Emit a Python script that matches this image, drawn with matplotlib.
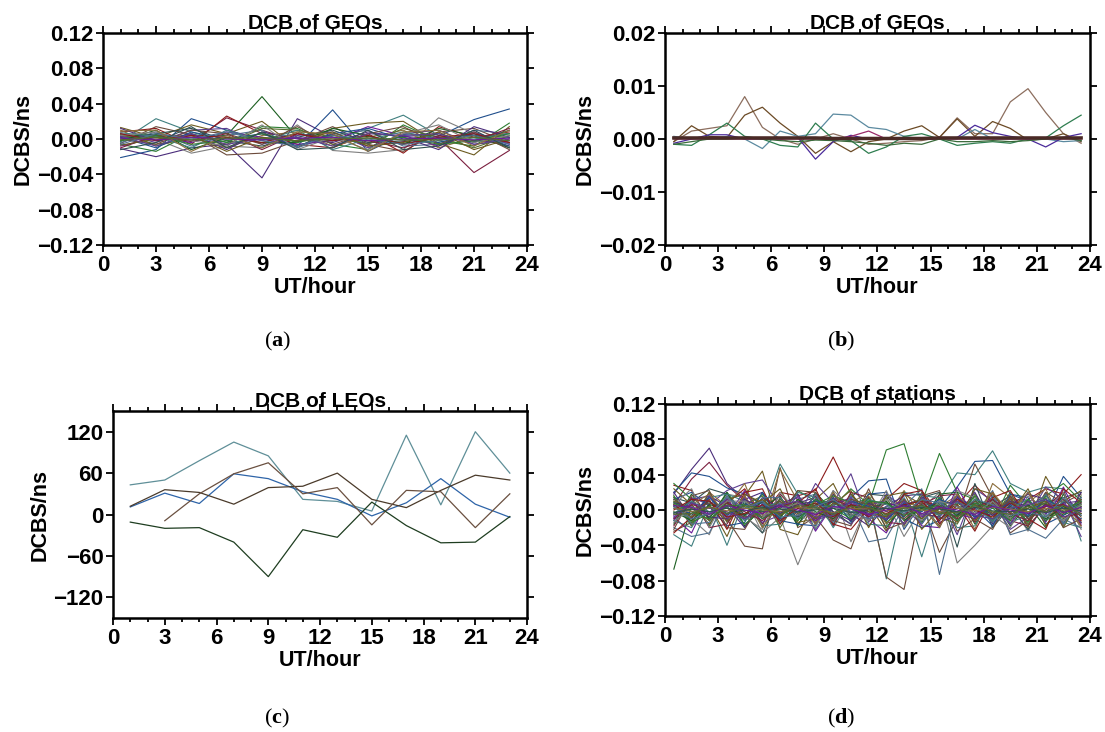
import numpy as np
import matplotlib
matplotlib.use("Agg")
import matplotlib.pyplot as plt
from matplotlib.ticker import MultipleLocator, FuncFormatter

plt.rcParams["font.family"] = ["Liberation Sans", "DejaVu Sans"]
plt.rcParams["mathtext.fontset"] = "custom"
plt.rcParams["mathtext.rm"] = "Liberation Serif"
plt.rcParams["mathtext.bf"] = "Liberation Serif:bold"

# ---------------- data ----------------
# (a) DCB of GEOs, odd hours, values in 1e-3 ns
hours_a = [1, 3, 5, 7, 9, 11, 13, 15, 17, 19, 21, 23]
geo_a = [
    [3, 5, 2, 4, 48, 1, -2, 3, -5, 1, 4, 2],
    [-11, -20, -10, -6, -44, 23, 2, -5, 3, 0, -2, -4],
    [2, 4, -3, 24, 10, -3, 5, -8, -3, 1, -38, -13],
    [-21, -12, 23, 10, 0, -8, 33, -14, 5, 3, 22, 34],
    [-3, 23, 8, -4, 0, 6, -2, 12, 27, 4, -3, 2],
    [13, 2, 16, 6, 20, -10, 12, 18, 20, -5, -18, 14],
    [-5, 14, 5, -18, -16, -2, 14, -6, -14, 8, 12, -4],
    [4, 0, -16, -8, -10, 16, -13, -16, -12, 24, 6, -5],
    [8, 12, -6, 26, 6, -6, -10, 6, -16, 14, 2, 8],
    [-6, -14, 6, -4, 14, 12, -6, -12, 16, -2, -8, 18],
    [6, -4, 10, 12, -6, 4, 8, -10, 6, 10, -6, -2],
    [-4, 8, -8, 4, 10, -10, 4, 10, -8, -6, 10, 6],
    [10, -8, 2, -10, 4, 8, -8, 2, 10, -10, 2, -8],
    [0, 6, 12, -2, -8, 2, 10, -4, -2, 6, -4, 10],
    [-8, 2, -4, 8, 2, -6, -2, 14, 4, -8, 8, -6],
    [5, -6, 0, -6, 12, 10, 2, -6, 12, 2, -10, 4],
    [-2, 10, -12, 2, -4, -4, 12, 4, -6, 12, 4, -10],
    [12, -2, 6, -12, 8, 0, -4, 8, 2, -12, 14, 2],
    [-10, 4, -2, 6, -12, 6, 0, -2, -10, 4, -2, 12],
    [2, -10, 8, 0, 6, -8, 6, 12, 0, -4, 6, -8],
    [7, 3, -10, 10, -2, 10, -12, 0, 8, 0, 0, 6],
    [-7, 0, 4, -14, 2, -2, 8, -8, -4, 8, -12, 0],
    [0, -6, 10, 6, -6, 14, -6, 6, 14, -6, 8, -12],
    [4, 8, -2, -8, 16, -12, 2, -12, 6, 16, -4, 4],
    [6, -2, 4, 2, -4, 6, -2, 4, -6, 2, 6, -4],
    [-2, 4, -6, -2, 6, -4, 4, -2, 2, -6, -2, 6],
    [3, -8, 6, -6, 0, 2, -8, 6, 4, 6, -6, 0],
    [-6, 6, 0, 8, -2, -8, 4, 0, -6, -2, 4, -6],
    [9, 10, -14, 4, -10, 8, 6, -14, 8, 10, -8, 10],
    [-12, -4, 14, -10, 8, -12, -10, 10, -12, -8, 10, -10],
    [1, -1, 2, 0, -1, 1, 2, -2, 0, 1, -1, 1],
    [-1, 2, -1, 1, 1, -2, 0, 1, -1, -1, 2, -2],
]

# (b) DCB of GEOs, half hours, values in 1e-4 ns
hours_b = [h + 0.5 for h in range(24)]
geo_b = [
    [-5, 15, 20, 25, 80, 22, 0, -10, 0, 10, 0, -10, -8, -5, -3, 3, 40, 10, 10, 70, 95, 50, 10, -8],
    [-5, 25, 5, 3, 45, 60, 30, 5, -27, -5, -24, -5, 0, 15, 25, 3, 38, 5, 33, 20, -2, 0, 10, -5],
    [5, 0, 0, 5, 0, -18, 15, 5, 10, 47, 45, 22, 18, 5, 0, 0, 0, 18, 0, 0, 0, 0, -5, -3],
    [-10, -12, 8, 30, 5, 0, -12, -15, 30, 0, -3, -27, -15, 5, 10, 0, -12, -8, -5, -8, 0, 2, 25, 45],
    [-8, 0, 8, 8, 0, 0, 0, 3, -38, -5, 7, 0, 0, 0, 0, 0, 3, 26, 12, 5, 0, -15, 3, 10],
    [0, 0, 0, 0, 0, 0, 0, 0, 0, 0, 5, 15, 0, 0, 0, 0, 0, 0, 0, 0, 0, 0, 0, 0],
    [-10, -5, 0, 0, 2, 0, -3, -5, -2, -3, -5, -8, -12, -8, -10, 0, -5, -5, -3, -5, -3, 0, 3, -3],
]
geo_b_mean = [2, 2, 2, 2, 2, 2, 2, 2, 2, 1, 1, 1, 1, 1, 1, 2, 2, 2, 2, 2, 2, 2, 2, 2]
colors_b = ["#8c6e5e", "#6b4a25", "#5b8aa0", "#2e7d4f", "#4a2a9a", "#9a2a6a", "#3a6a3a"]

# (c) DCB of LEOs, odd hours, ns (None = no value)
hours_c = [1, 3, 5, 7, 9, 11, 13, 15, 17, 19, 21, 23]
leo_c = [
    [43, 50, 78, 105, 85, 22, 19, 5, 115, 14, 120, 60],
    [11, 31, 16, 59, 52, 33, 22, -2, 17, 52, 15, -4],
    [12, 36, 32, 15, 39, 41, 60, 22, 10, 35, 57, 50],
    [None, -9, 30, 59, 75, 30, 39, -15, 35, 33, -19, 30],
    [-11, -20, -19, -40, -90, -22, -33, 18, -16, -41, -40, -3],
]
colors_c = ["#5f8f98", "#2e64a8", "#4a3a2a", "#6a5040", "#1e3d20"]

# (d) DCB of stations, half hours, values in 1e-3 ns
hours_d = [h + 0.5 for h in range(24)]
sta_d = [
    [-67, 5, -8, 10, -12, 4, -6, 8, -4, 10, -2, 6, -8, 4, 2, -6, 8, -4, 6, -10, 2, 8, -6, 4],
    [18, 46, 70, 30, 12, 20, -4, 8, 14, -6, 10, 4, -10, 6, 12, 2, -8, 10, 4, 16, -4, 6, 12, 2],
    [6, 35, 54, 28, 10, -4, 12, 2, -8, 14, 6, -6, 8, 2, -10, 4, 12, 6, -4, 8, 10, -2, 6, -4],
    [20, 42, 38, 25, 18, 6, -4, 10, 2, -8, 14, 33, 35, -22, 8, 2, 26, 55, 56, 18, 10, -6, 38, 14],
    [-28, -41, 8, -40, 12, -6, 52, 18, -22, 8, -4, 14, -78, 10, -53, 12, 42, 40, 67, 30, 20, 26, 24, -35],
    [10, -18, 6, -30, 16, 44, -22, -28, 12, 30, -10, 6, -24, 18, 6, -18, 10, 6, -4, 14, -20, 38, 4, 6],
    [-24, -14, 20, -10, -41, -44, 48, -20, -8, -34, -44, 10, -76, -90, 8, -48, -10, 52, 14, -26, -12, 20, 8, 18],
    [4, -10, -28, 18, 14, -26, -8, -62, -14, 22, -36, 8, 10, -30, 2, 20, -60, -40, -18, 6, -24, 10, -14, 8],
    [28, 22, -12, 8, 24, -6, 20, 16, 22, 60, 18, -8, 12, 30, 22, -4, 6, 28, 8, -10, 12, 24, 18, 40],
    [30, 12, -18, 20, -6, 18, -10, 22, 10, 4, 24, 6, 68, 75, 8, 64, 20, 12, -14, 28, 4, 16, 30, 10],
    [-12, 14, 6, 22, 30, 34, 4, -8, 30, 8, 41, -14, 18, 2, -16, 14, -28, 24, 10, -22, -8, 26, 12, -30],
    [-20, -30, -26, 14, -20, 6, -14, 12, 18, -10, 8, -36, -32, 4, 24, -73, 10, -6, 22, -28, -22, -32, -10, -20],
    [16, -16, 20, 4, 30, -20, 46, 10, -14, 16, 8, 20, -8, 22, -6, 4, 16, -22, 30, 14, 8, 24, -18, 12],
    [14, 8, 24, 18, -6, -26, 14, -16, 6, 12, -12, 18, 16, -8, 14, 20, -42, 30, -20, 4, -22, 8, 14, 20],
    [-8, -26, 16, -8, 22, -10, 8, 14, -24, 6, 14, -10, -26, 12, -18, -20, 26, -10, 16, -16, 20, -14, 26, -16],
    [14, -18, 20, -14, 6, 16, -20, 12, 4, -16, 18, -2, 14, -18, 20, -8, -16, 18, -12, 20, -16, 14, -20, 16],
    [-16, 18, -10, 20, -18, 2, 16, -18, 20, -2, -16, 14, -20, 6, -14, 18, 20, -16, 12, -18, 6, -20, 18, -14],
    [20, -10, 16, 4, -20, 14, 2, 18, -16, 18, -4, -18, 4, 16, 18, -14, -6, 20, -16, 6, 18, 12, -16, 20],
    [-18, 14, -20, -16, 16, -16, 18, -4, 16, -18, 20, 14, -14, -16, 6, 16, 18, -14, 20, -12, -18, 4, 20, -18],
    [12, 20, 4, -18, -14, 20, -12, -16, -18, 14, -14, 18, 20, -10, -20, -12, 14, 2, -18, 18, 14, -16, -6, 12],
    [-12, -20, 14, 18, 10, -18, -16, 20, 14, -20, 12, -16, -18, 20, 16, 14, -20, -18, 16, -14, -6, 18, -14, -20],
    [24, 6, -16, 12, 18, 8, 24, -14, -10, 6, 22, -20, 16, 20, -22, 2, -14, 24, 18, -4, 24, -18, 10, 22],
    [-22, 16, 22, -20, -22, 12, -6, 22, 20, -12, -18, 24, -22, -14, 16, 22, -24, -10, -22, 16, -18, 20, -20, -10],
    [6, 24, -20, 16, -8, -22, 20, -2, -20, 22, 4, -12, 22, -20, 8, -20, 22, 14, -6, -20, 16, 0, 20, -22],
    [-26, -8, 12, -22, 20, 24, -16, 8, 24, -16, -22, 2, -12, 18, 22, -16, 6, -24, 14, 22, -10, -22, 24, 8],
    [16, -14, -4, 8, -16, 0, 10, -12, 6, 16, 8, 12, -14, 0, -10, 14, -8, 16, -12, 10, -14, 16, -4, 6],
    [-10, 12, 16, -12, 14, -14, -6, 16, -12, -4, -16, 6, 10, -16, 14, -6, 16, -8, 6, -16, 10, -12, 8, -14],
    [8, -16, -14, 16, -8, 14, 14, -10, 18, -14, 16, -10, -6, 14, -16, 10, -12, 4, -14, 8, -8, 18, -16, 14],
    [-4, 6, 18, -6, 16, -20, 8, 6, -16, 20, -8, 16, -16, 8, 4, -20, 18, -6, 20, -4, 20, -8, 4, -18],
    [4, -6, 10, -4, 8, -2, 6, -8, 4, 10, -6, 2, 8, -4, 6, -10, 2, 8, -6, 4, -8, 6, -2, 8],
    [-6, 8, -4, 12, -10, 6, -2, 4, -12, 2, 8, -6, 4, 10, -8, 6, -4, -10, 8, -6, 10, -4, 6, -2],
    [10, 2, -12, 6, 4, -8, 12, -4, 8, -6, 2, 10, -6, 4, 12, -2, -8, 6, -10, 12, -2, 8, -10, 4],
    [-2, -12, 6, 2, -6, 10, -8, 12, -2, -10, 6, -4, 10, -12, 2, 8, -6, 12, 4, -8, 6, -10, 4, -6],
    [8, 4, -8, -10, 12, 2, -4, 6, 10, -2, -12, 8, -2, 6, -4, -8, 14, -2, -6, 10, 4, -2, 8, 10],
    [-10, 6, 2, 8, -2, -12, 4, 10, -6, 12, 4, -8, 2, -6, 10, 4, -10, 2, 12, -4, -12, 6, -8, -4],
    [2, -4, 14, -6, 6, 8, -10, -2, 12, -4, 10, 4, -12, 8, -2, 12, 4, -8, 2, 6, -6, 12, 2, -10],
    [-4, 10, -2, 4, -12, 4, 8, -10, 2, 6, -8, 12, 6, -2, 4, -6, 8, 4, -12, 2, 12, -8, 10, 2],
    [6, -8, 4, -12, 2, 12, -6, 4, -10, 8, 2, -2, -8, 12, -10, 2, 6, -12, 8, -2, 2, 10, -4, 12],
    [12, 0, 8, 2, -8, -4, 10, -6, 6, -12, 12, 6, 2, -10, 8, -4, -2, 10, -4, 12, -10, 0, 12, -8],
    [-14, 4, -6, 10, 10, -6, 0, 8, -4, 4, -4, -12, 12, 2, -12, 10, 4, -4, 10, -10, 8, -6, -12, 6],
    [0, 12, 10, -8, -4, 6, -12, 2, 8, -8, 6, 2, -4, 6, 10, -12, 12, 0, -8, 8, -4, 4, 6, -12],
    [8, -2, -10, 4, 6, -10, 2, -12, 12, 2, -10, 10, 8, -6, 0, 6, -12, 8, 2, -12, 12, -12, 0, 10],
    [-8, 8, 2, -2, -10, 2, 6, 10, -8, -6, 10, -4, -10, 10, -6, -2, 10, -6, -10, 2, 6, 12, -8, 0],
    [4, -10, -4, 14, 2, 10, -8, -6, 4, 12, -2, -10, 4, -4, 12, 8, -4, 12, 6, -6, -2, -8, 14, -6],
    [2, -2, 3, -1, 2, 0, -2, 3, 1, -3, 2, 1, -1, 3, 0, -2, 2, -1, 3, 1, -2, 2, 0, 1],
    [-3, 1, -2, 2, -1, 3, 1, -2, 0, 2, -3, 0, 2, -1, 3, 1, -2, 3, -1, -2, 1, -3, 2, -1],
    [5, 3, -5, 5, 0, -4, 5, 0, -5, 4, 1, -5, 0, 5, -4, 3, 0, -5, 4, 0, -4, 5, -3, 3],
    [-5, -4, 4, -4, 5, 2, -5, 5, 3, -5, 4, 3, -5, 2, 5, -4, -3, 5, -2, -5, 4, -2, 5, -4],
]

palette = ["#1b5e20", "#4a2c7a", "#7b1f3f", "#1f4e8c", "#3f7f7f", "#6b5a1f",
           "#6b4a3a", "#7f7f7f", "#8b1a1a", "#2e7d32", "#5c3d8f", "#4f6f8f",
           "#8a6d3b", "#2f4f4f", "#6a1b9a", "#556b2f"]


def tick_fmt(decimals):
    def f(v, pos):
        s = f"{v:.{decimals}f}"
        if float(s) == 0:
            s = s.lstrip("-")
        return s.replace("-", "\u2212")
    return FuncFormatter(f)


def style_axes(ax, ylim, ystep, decimals, title):
    ax.set_xlim(0, 24)
    ax.xaxis.set_major_locator(MultipleLocator(3))
    ax.xaxis.set_minor_locator(MultipleLocator(1))
    ax.set_ylim(ylim)
    ax.yaxis.set_major_locator(MultipleLocator(ystep))
    ax.yaxis.set_major_formatter(tick_fmt(decimals))
    ax.tick_params(which="both", direction="out", top=True, right=True, width=1.3)
    ax.tick_params(which="major", length=5, labelsize=16, pad=2)
    ax.tick_params(which="minor", length=3)
    for lab in ax.get_xticklabels() + ax.get_yticklabels():
        lab.set_fontweight("bold")
    for sp in ax.spines.values():
        sp.set_linewidth(1.8)
    ax.set_xlabel("UT/hour", fontsize=15.5, fontweight="bold", labelpad=1)
    ax.set_ylabel("DCBS/ns", fontsize=15.5, fontweight="bold", labelpad=2)
    ax.text(0.5, 1.0, title, transform=ax.transAxes, ha="center", va="bottom",
            fontsize=15, fontweight="bold")


fig = plt.figure(figsize=(11.05, 7.32), dpi=100)

ax_a = fig.add_axes([0.0932, 0.6653, 0.3837, 0.2896])
ax_b = fig.add_axes([0.6018, 0.6653, 0.3846, 0.2896])
ax_c = fig.add_axes([0.1023, 0.1557, 0.3747, 0.2828])
ax_d = fig.add_axes([0.6018, 0.1585, 0.3846, 0.2896])

for i, row in enumerate(geo_a):
    ax_a.plot(hours_a, np.array(row) * 1e-3, color=palette[i % len(palette)], lw=0.8)
style_axes(ax_a, (-0.12, 0.12), 0.04, 2, "DCB of GEOs")

for i, row in enumerate(geo_b):
    ax_b.plot(hours_b, np.array(row) * 1e-4, color=colors_b[i], lw=0.9)
ax_b.plot(hours_b, np.array(geo_b_mean) * 1e-4, color="#4a2a26", lw=2.5)
style_axes(ax_b, (-0.02, 0.02), 0.01, 2, "DCB of GEOs")

for i, row in enumerate(leo_c):
    vals = np.array([np.nan if v is None else v for v in row], dtype=float)
    ax_c.plot(hours_c, vals, color=colors_c[i], lw=0.9)
style_axes(ax_c, (-150, 150), 60, 0, "DCB of LEOs")

for i, row in enumerate(sta_d):
    ax_d.plot(hours_d, np.array(row) * 1e-3, color=palette[i % len(palette)], lw=0.8)
style_axes(ax_d, (-0.12, 0.12), 0.04, 2, "DCB of stations")

for x, y, letter in [(0.251, 0.533, "a"), (0.761, 0.533, "b"),
                     (0.251, 0.019, "c"), (0.761, 0.019, "d")]:
    fig.text(x, y, r"$\mathrm{(}\mathbf{" + letter + r"}\mathrm{)}$",
             ha="center", va="center", fontsize=16)

fig.savefig("out.png", dpi=100)
